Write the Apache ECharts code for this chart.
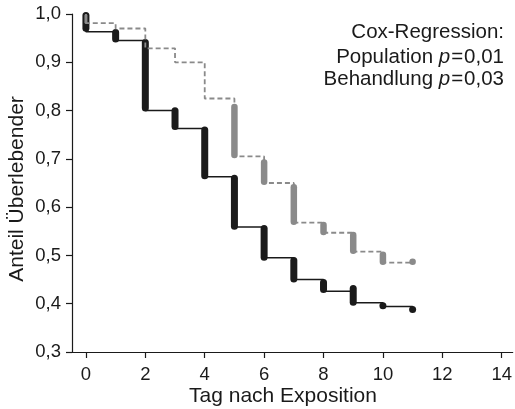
<!DOCTYPE html>
<html>
<head>
<meta charset="utf-8">
<script src="https://cdn.jsdelivr.net/npm/echarts@6/dist/echarts.min.js"></script>
<style>html,body{margin:0;padding:0;background:#fff}#c{width:515px;height:409px}</style>
</head>
<body>
<div id="c"></div>
<script>
// Step curves (time, survival after that time)
const blackTimes = [0, 0, 1, 2, 3, 4, 5, 6, 7, 8, 9, 10, 11];
const blackSurv  = [1.0, 0.963, 0.945, 0.80, 0.763, 0.663, 0.559, 0.495, 0.45, 0.426, 0.402, 0.394, 0.388];
const grayTimes  = [0, 0, 1, 2, 3, 4, 5, 6, 7, 8, 9, 10, 11];
const graySurv   = [1.0, 0.981, 0.97, 0.929, 0.90, 0.825, 0.705, 0.65, 0.568, 0.547, 0.508, 0.485, 0.485];
// Censor marks: [time, top, bottom] (visible extent)
const blackCensor = [[0,1.004,0.963],[1,0.969,0.941],[2,0.948,0.798],[3,0.807,0.76],[4,0.767,0.658],[5,0.667,0.553],[6,0.563,0.489],[7,0.497,0.444],[8,0.451,0.422],[9,0.439,0.396],[10,0.396,0.396],[11,0.388,0.388]];
const grayCensor  = [[5,0.814,0.701],[6,0.699,0.646],[7,0.648,0.563],[8,0.57,0.542],[9,0.549,0.503],[10,0.508,0.48],[11,0.487,0.487]];
const grayCensorStart = [[0,1.0,0.98]];
const xTicks = [0, 2, 4, 6, 8, 10, 12, 14];
const yTicks = [0.3, 0.4, 0.5, 0.6, 0.7, 0.8, 0.9, 1.0];
const xName = 'Tag nach Exposition';
const yName = 'Anteil Überlebender';
const noteLines = ['Cox-Regression:', 'Population {i|p}{s|=}0,01', 'Behandlung {i|p}{s|=}0,03'];

const FONT = 'Liberation Sans, Arial, Helvetica, sans-serif';
const INK = '#1a1a1a';
const chart = echarts.init(document.getElementById('c'), null, {renderer: 'canvas'});

function zip(t, v) { return t.map((x, i) => [x, v[i]]); }
function censorRender(color, width) {
  return function (params, api) {
    const x = api.value(0);
    const p1 = api.coord([x, api.value(1)]);
    const p2 = api.coord([x, api.value(2)]);
    const r = width / 2;
    let y1 = p1[1] + r, y2 = p2[1] - r;
    if (y2 <= y1) {
      const m = (p1[1] + p2[1]) / 2;
      return {type: 'circle', shape: {cx: p1[0], cy: m, r: r}, style: {fill: color}};
    }
    return {type: 'line', shape: {x1: p1[0], y1: y1, x2: p1[0], y2: y2},
            style: {stroke: color, lineWidth: width, lineCap: 'round'}};
  };
}

const noteY = [32, 57, 79];
const graphics = noteLines.map((t, i) => ({
  type: 'text', x: 504, y: noteY[i], z: 10,
  style: {
    text: t, align: 'right', verticalAlign: 'middle', fill: INK, fontSize: 20.5, fontFamily: FONT,
    rich: {
      i: {fontStyle: 'italic', fontSize: 20.5, fontFamily: FONT, fill: INK},
      s: {fontSize: 20.5, fontFamily: FONT, fill: INK, padding: [0, 1, 0, 1]}
    }
  }
}));
graphics.push({
  type: 'text', x: 283, y: 396, z: 10,
  style: {text: xName, align: 'center', verticalAlign: 'middle', fill: INK, fontSize: 21, fontFamily: FONT}
});
graphics.push({
  type: 'text', x: 17, y: 189, rotation: Math.PI / 2, z: 10,
  style: {text: yName, align: 'center', verticalAlign: 'middle', fill: INK, fontSize: 21, fontFamily: FONT}
});

chart.setOption({
  animation: false,
  grid: {left: 72, right: 0, top: 14, bottom: 57},
  xAxis: {
    type: 'value', min: -0.469, max: 14.37,
    axisLine: {show: true, onZero: false, lineStyle: {color: INK, width: 1.2}},
    axisTick: {show: true, customValues: xTicks, length: 6, lineStyle: {color: INK, width: 1.2}},
    axisLabel: {customValues: xTicks, color: INK, fontSize: 18.5, fontFamily: FONT, margin: 13},
    splitLine: {show: false}
  },
  yAxis: {
    type: 'value', min: 0.3, max: 1.0,
    axisLine: {show: true, onZero: false, lineStyle: {color: INK, width: 1.2}},
    axisTick: {show: true, customValues: yTicks, length: 6, lineStyle: {color: INK, width: 1.2}},
    axisLabel: {customValues: yTicks, color: INK, fontSize: 18.5, fontFamily: FONT, margin: 11,
                formatter: v => v.toFixed(1).replace('.', ',')},
    splitLine: {show: false}
  },
  series: [
    {type: 'line', step: 'end', data: zip(blackTimes, blackSurv), symbol: 'none', z: 2,
     lineStyle: {color: INK, width: 1.5}},
    {type: 'custom', data: blackCensor, renderItem: censorRender(INK, 7), z: 3},
    {type: 'line', step: 'end', data: zip(grayTimes, graySurv), symbol: 'none', z: 4,
     lineStyle: {color: '#8a8a8a', width: 1.8, type: [5, 3]}},
    {type: 'custom', data: grayCensor, renderItem: censorRender('#8a8a8a', 6.5), z: 5},
    {type: 'custom', data: grayCensorStart, renderItem: censorRender('#8a8a8a', 3), z: 5}
  ],
  graphic: graphics
});
</script>
</body>
</html>
